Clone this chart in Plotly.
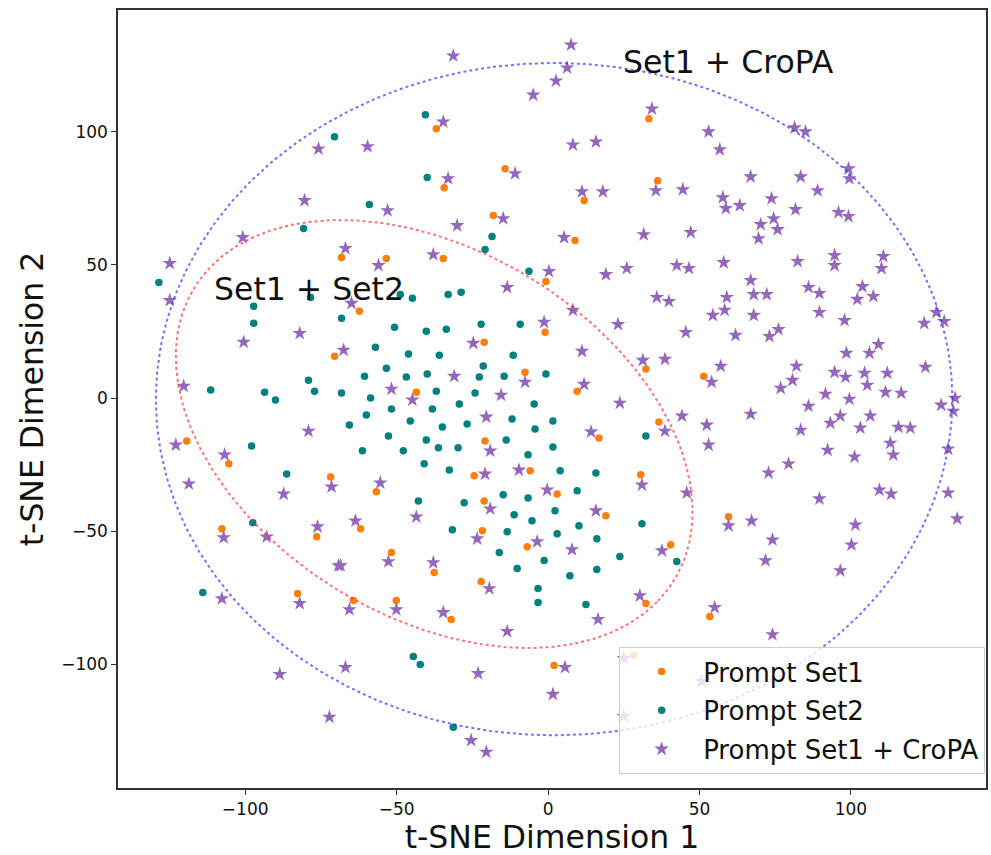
import numpy as np
import plotly.graph_objects as go

# ---------------- data ----------------
set1_x = [-36.9,-14.2,-34.3,-18.1,-68.2,-53.4,-34.6,33.3,36.2,11.9,8.9,-70.5,-119.3,-105.4,-71.8,-107.7,-0.7,-62.3,-1.0,-21.1,
          -7.6,-43.5,-20.8,-24.4,-5.9,-56.7,-21.1,-61.9,32.3,51.4,9.6,36.6,16.8,30.6,3.0,19.1,59.6,-76.4,-82.7,-21.7,
          -6.9,-51.7,-37.6,-22.1,-64.3,-50.1,-32.0,40.5,32.3,53.4,2.0,28.3]
set1_y = [101.1,86.1,79.0,68.5,52.8,52.4,52.4,104.9,81.6,74.2,59.2,15.7,-16.1,-24.7,-29.6,-49.1,43.8,32.6,24.7,21.0,
          9.7,2.2,-16.1,-29.2,-27.3,-35.2,-38.6,-49.1,10.9,8.2,2.6,-9.0,-15.0,-28.8,-36.0,-44.2,-44.6,-52.1,-73.4,-49.8,
          -55.8,-58.0,-65.5,-68.9,-76.0,-76.0,-83.1,-55.1,-77.1,-82.0,-100.4,-96.6]

set2_x = [-70.5,-40.5,-39.9,-59.0,-80.7,-18.5,-20.8,-6.3,-128.5,-97.2,
          -97.2,-78.4,-79.1,-77.1,-111.4,-93.6,-90.0,-97.9,-86.3,-97.5,
          -48.8,-44.8,-33.0,-28.7,-68.2,-50.7,-40.2,-33.6,-22.1,-9.2,
          -57.0,-46.1,-35.9,-11.5,-21.4,-53.4,-60.6,-46.8,-39.9,-22.7,
          -14.5,-0.7,-68.2,-36.9,-24.1,-58.6,-51.7,-38.2,-29.3,-4.6,
          -60.0,-65.6,-45.5,-34.9,-26.7,-11.9,-4.3,-52.7,-40.2,-13.8,
          -61.3,-47.8,-36.2,-29.7,-6.6,-40.9,-32.6,-14.8,-6.6,-42.8,
          -27.7,-11.2,-5.3,1.6,32.3,1.6,4.0,15.8,9.6,2.3,
          10.2,31.0,-114.0,-31.6,-13.5,-16.1,-10.2,-1.3,-3.3,-3.3,
          -44.5,-42.2,-31.3,3.0,16.1,23.7,42.5,7.2,16.1,12.5]
set2_y = [98.1,106.4,82.8,72.7,63.7,60.7,55.8,47.6,43.4,34.5,
          28.1,37.8,6.7,2.6,3.0,2.2,-0.7,-18.0,-28.5,-46.8,
          38.9,37.5,38.9,39.7,30.0,26.6,25.1,25.8,27.7,27.7,
          19.1,16.5,16.1,16.1,12.0,11.2,8.2,7.9,9.0,7.9,
          8.2,9.0,1.9,2.6,1.9,0.0,-4.1,-4.1,-2.2,-2.2,
          -6.4,-10.1,-8.6,-10.9,-9.7,-7.9,-11.6,-14.2,-15.7,-15.7,
          -19.8,-19.8,-18.7,-18.7,-21.3,-24.7,-27.0,-36.3,-37.5,-38.6,
          -39.3,-43.8,-46.1,-8.6,-14.2,-18.4,-27.3,-28.1,-34.8,-42.3,
          -47.9,-47.2,-73.0,-49.4,-50.2,-58.0,-64.0,-61.0,-71.5,-76.8,
          -97.0,-100.0,-123.6,-50.9,-52.8,-59.5,-61.4,-66.7,-64.4,-77.5]

cropa_x = [-31.3,-4.9,-34.6,-59.6,-10.9,-33.0,-53.0,-14.8,-30.0,-66.9,
           -56.0,-37.9,0.3,-75.8,-80.4,-100.8,-124.9,7.6,6.3,2.6,
           34.3,53.0,56.7,8.2,15.8,66.9,35.6,44.5,11.2,18.1,
           57.7,58.7,63.3,70.2,69.5,5.3,31.6,47.1,19.1,26.0,
           42.5,46.5,58.0,81.4,85.0,99.2,99.5,83.4,89.0,73.8,
           81.7,74.5,75.8,95.9,99.2,82.4,94.6,94.6,110.7,110.1,
           -124.9,-82.0,-100.5,-120.3,-79.1,-122.9,-106.8,-71.5,-118.6,-87.3,-76.1,
           -13.5,
           -64.9,-1.3,-24.7,-67.5,-31.0,-7.6,-51.7,-44.8,-15.5,-20.4,
           -19.1,-20.8,-9.6,-55.4,-0.3,-19.1,-43.5,-63.6,
           66.9,67.9,35.9,39.9,59.0,54.4,58.3,67.9,8.2,23.1,
           45.5,61.9,11.2,31.3,38.6,57.0,54.0,11.9,23.7,66.9,
           44.2,38.6,52.4,53.0,14.2,31.0,45.8,15.8,59.6,67.2,
           72.2,86.0,89.6,103.8,107.4,102.1,89.6,97.9,128.2,130.8,
           124.2,76.1,73.1,109.1,98.5,106.1,82.0,124.6,94.6,98.2,
           104.5,112.0,80.7,105.4,76.8,91.6,111.4,116.6,99.5,134.4,
           129.8,133.8,86.0,96.5,106.4,93.2,115.7,119.6,103.1,83.4,
           113.0,114.0,92.3,101.2,132.1,79.4,72.8,109.4,113.3,132.1,
           89.6,135.1,101.5,
           -107.1,-92.9,-69.2,-107.7,-82.0,-88.6,-72.2,-23.4,-3.6,-52.7,
           -68.5,-37.9,-19.4,-65.6,-50.1,-34.6,-13.5,-66.9,-23.1,-25.4,
           -20.4,7.9,37.6,30.3,16.5,55.0,5.6,1.6,25.0,50.7,
           25.0,100.2,74.1,71.8,96.5,74.1]
cropa_y = [128.5,113.8,103.7,94.4,84.3,82.4,70.4,67.4,64.8,56.2,
           49.8,53.9,47.6,93.6,74.2,60.3,50.6,132.6,124.0,119.1,
           108.6,100.0,93.3,95.1,96.2,83.1,77.9,78.3,77.5,77.5,
           75.3,71.2,72.3,65.2,59.9,60.3,61.4,62.2,46.4,48.7,
           49.8,48.7,50.9,101.5,100.0,86.1,82.4,83.1,77.9,74.9,
           70.8,67.4,63.3,69.7,68.2,51.3,53.6,49.8,53.2,48.7,
           36.7,24.3,21.0,4.5,-12.4,-17.6,-21.3,-33.3,-32.2,-36.0,-48.3,
           41.6,
           35.6,28.5,20.6,18.0,8.2,6.0,3.4,-0.7,1.1,-7.1,
           -19.8,-28.5,-27.0,-31.8,-34.5,-41.6,-44.6,-46.1,
           44.2,38.9,37.8,36.3,37.8,31.1,33.0,31.1,33.0,27.7,
           24.7,23.6,17.6,14.2,14.6,12.0,6.0,5.2,-1.9,-6.0,
           -6.7,-12.4,-10.1,-17.6,-12.7,-32.6,-35.6,-42.3,-47.9,-46.1,
           38.9,41.6,39.3,41.9,38.2,37.1,32.2,29.2,32.2,28.8,
           28.1,25.8,23.2,20.2,16.9,16.9,12.0,11.6,9.7,7.9,
           9.4,9.4,6.7,4.9,3.7,1.5,2.2,1.9,-0.4,0.0,
           -2.6,-4.9,-3.0,-6.7,-6.7,-9.4,-10.9,-11.2,-11.2,-12.0,
           -16.9,-21.3,-19.5,-22.1,-19.1,-24.7,-28.1,-34.5,-36.0,-35.6,
           -37.8,-45.3,-47.6,
           -52.4,-52.1,-62.9,-75.3,-77.1,-103.7,-119.8,-52.8,-53.9,-61.4,
           -62.9,-61.8,-71.5,-79.4,-79.4,-80.5,-87.6,-101.1,-103.4,-128.5,
           -132.9,-56.9,-57.3,-74.2,-83.1,-78.6,-101.1,-111.2,-97.7,-106.4,
           -119.5,-55.1,-53.2,-61.0,-64.8,-88.8]

series_names = ["Prompt Set1", "Prompt Set2", "Prompt Set1 + CroPA"]
x_ticks = [-100, -50, 0, 50, 100]
y_ticks = [-100, -50, 0, 50, 100]

# ellipse parameters: center x, center y, semi-axis a, semi-axis b, angle (deg)
ell_cropa = (2.0, -0.4, 131.5, 126.2, 0.0)
ell_set12 = (-37.6, -13.5, 96.9, 65.9, -40.3)
label_cropa = ("Set1 + CroPA", 24.0, 126.0)
label_set12 = ("Set1 + Set2", -111.0, 40.8)

FONT = "DejaVu Sans"


def ellipse(cx, cy, a, b, ang):
    t = np.linspace(0, 2 * np.pi, 400)
    th = np.deg2rad(ang)
    x = cx + a * np.cos(th) * np.cos(t) - b * np.sin(th) * np.sin(t)
    y = cy + a * np.sin(th) * np.cos(t) + b * np.cos(th) * np.sin(t)
    return x, y


fig = go.Figure()

fig.add_trace(go.Scatter(x=set1_x, y=set1_y, mode="markers", name=series_names[0], legendgroup="g1",
                         marker=dict(color="#ff7f0e", size=7.5, line=dict(width=0))))
fig.add_trace(go.Scatter(x=set2_x, y=set2_y, mode="markers", name=series_names[1], legendgroup="g2",
                         marker=dict(color="#008080", size=7.5, line=dict(width=0))))
fig.add_trace(go.Scatter(x=cropa_x, y=cropa_y, mode="markers", name=series_names[2], legendgroup="g3",
                         marker=dict(color="#9467bd", size=11, symbol="star", line=dict(width=0))))

ex, ey = ellipse(*ell_set12)
fig.add_trace(go.Scatter(x=ex, y=ey, mode="lines", showlegend=False, hoverinfo="skip",
                         line=dict(color="rgba(255,40,40,0.65)", width=2, dash="dot")))
ex, ey = ellipse(*ell_cropa)
fig.add_trace(go.Scatter(x=ex, y=ey, mode="lines", showlegend=False, hoverinfo="skip",
                         line=dict(color="rgba(40,40,255,0.65)", width=2, dash="dot")))

for txt, tx, ty in (label_cropa, label_set12):
    fig.add_annotation(x=tx, y=ty, text=txt, showarrow=False, xanchor="left", yanchor="middle",
                       font=dict(family=FONT, size=31.5, color="#111111"))

axis_common = dict(showline=True, linecolor="#333333", linewidth=1.5, mirror=True,
                   ticks="outside", ticklen=5, tickwidth=1.2, tickcolor="#333333",
                   showgrid=False, zeroline=False,
                   tickfont=dict(family=FONT, size=17, color="#111111"))

fig.update_layout(
    width=991, height=855,
    margin=dict(l=118, r=3, t=10, b=65),
    paper_bgcolor="white", plot_bgcolor="white",
    font=dict(family=FONT),
    xaxis=dict(range=[-142.0, 144.6], tickvals=x_ticks,
               title=dict(text="t-SNE Dimension 1", font=dict(family=FONT, size=31.5, color="#111111"), standoff=11),
               **axis_common),
    yaxis=dict(range=[-146.4, 145.7], tickvals=y_ticks,
               title=dict(text="t-SNE Dimension 2", font=dict(family=FONT, size=31.5, color="#111111"), standoff=8),
               **axis_common),
    legend=dict(x=0.999, y=0.018, xanchor="right", yanchor="bottom",
                bgcolor="rgba(255,255,255,0.8)", bordercolor="#cccccc", borderwidth=1,
                font=dict(family=FONT, size=26, color="#111111"), itemwidth=73,
                tracegroupgap=2),
    showlegend=True,
)

fig.write_html("out.html")
